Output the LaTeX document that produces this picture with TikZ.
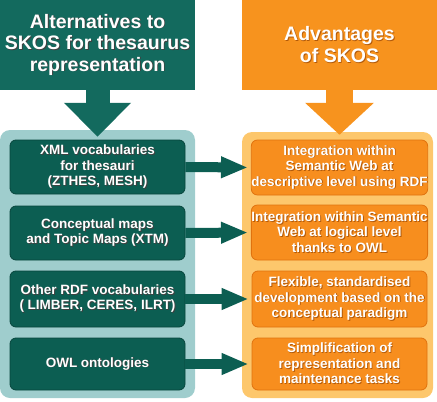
\documentclass[tikz,border=0pt]{standalone}
\usepackage{fontspec}
\setmainfont{Liberation Sans}
\usetikzlibrary{arrows.meta}
\definecolor{hgreen}{HTML}{136A5E}
\definecolor{igreen}{HTML}{0C5E52}
\definecolor{bgreen}{HTML}{07463D}
\definecolor{lteal}{HTML}{9FCDCD}
\definecolor{horange}{HTML}{F7931E}
\definecolor{lorange}{HTML}{FDC76C}
\definecolor{iorange}{HTML}{F78E1E}
\definecolor{borange}{HTML}{E0720E}
\newcommand\shd[2]{\makebox[0pt][l]{\hspace*{0.9pt}\raisebox{-0.9pt}{\textcolor{#1}{#2}}}#2}
\newcommand\gs[1]{\shd{black!75}{#1}}
\newcommand\os[1]{\shd{borange!80!black}{#1}}
\begin{document}
\begin{tikzpicture}[x=1pt,y=-1pt,
  header/.style={rectangle, inner sep=0pt, text=white, align=center,
    font=\fontsize{19.5}{21.5}\selectfont\bfseries},
  panel/.style={rectangle, rounded corners=10pt, inner sep=0pt},
  item/.style={rectangle, rounded corners=6pt, inner sep=0pt, line width=0.8pt,
    minimum width=175pt, text=white, align=center,
    font=\fontsize{13.5}{15.5}\selectfont\bfseries},
  gitem/.style={item, fill=igreen, draw=bgreen},
  oitem/.style={item, fill=iorange, draw=borange},
  link/.style={line width=10pt, draw=igreen, shorten >=3pt,
    -{Triangle[width=20pt,length=27pt]}},
]
\useasboundingbox (0,0) rectangle (437,402);
% headers
\node[header, fill=hgreen, minimum width=195pt, minimum height=90pt] (hl) at (97.5,45)
  {\gs{Alternatives to}\\\gs{SKOS for thesaurus}\\\gs{representation}};
\node[header, fill=horange, minimum width=195pt, minimum height=90pt] (hr) at (339.5,45)
  {\os{Advantages}\\\os{of SKOS}};
% panels
\node[panel, fill=lteal, minimum width=195pt, minimum height=268pt] (lp) at (97.5,264) {};
\node[panel, fill=lorange, minimum width=191pt, minimum height=266pt] (rp) at (337.5,265) {};
% header arrows
\draw[line width=24pt, draw=hgreen, shorten >=-7pt, -{Triangle[width=65pt,length=34pt]}]
  (hl.south) -- (hl.south |- lp.north);
\draw[line width=27pt, draw=horange, shorten >=-3pt, -{Triangle[width=67pt,length=32pt]}]
  (hr.south) -- (hr.south |- rp.north);
% left items
\node[gitem, minimum height=54pt] (l1) at (97.5,167)
  {\gs{XML vocabularies}\\\gs{for thesauri}\\\gs{(ZTHES, MESH)}};
\node[gitem, minimum height=54pt] (l2) at (97.5,233)
  {\gs{Conceptual maps}\\\gs{and Topic Maps (XTM)}};
\node[gitem, minimum height=56pt] (l3) at (97.5,299)
  {\gs{Other RDF vocabularies}\\\gs{( LIMBER, CERES, ILRT)}};
\node[gitem, minimum height=52pt] (l4) at (97.5,364)
  {\gs{OWL ontologies}};
% right items
\node[oitem, minimum height=55pt] (r1) at (339.5,167.5)
  {\os{Integration within}\\\os{Semantic Web at}\\\os{descriptive level using RDF}};
\node[oitem, minimum height=55pt] (r2) at (339.5,232.5)
  {\os{Integration within Semantic}\\\os{Web at logical level}\\\os{thanks to OWL}};
\node[oitem, minimum height=56pt] (r3) at (339.5,299)
  {\os{Flexible, standardised}\\\os{development based on the}\\\os{conceptual paradigm}};
\node[oitem, minimum height=52pt] (r4) at (339.5,364)
  {\os{Simplification of}\\\os{representation and}\\\os{maintenance tasks}};
% links
\draw[link] (l1.east) -- (r1.west);
\draw[link] (l2.east) -- (r2.west);
\draw[link] (l3.east) -- (r3.west);
\draw[link] (l4.east) -- (r4.west);
\end{tikzpicture}
\end{document}
